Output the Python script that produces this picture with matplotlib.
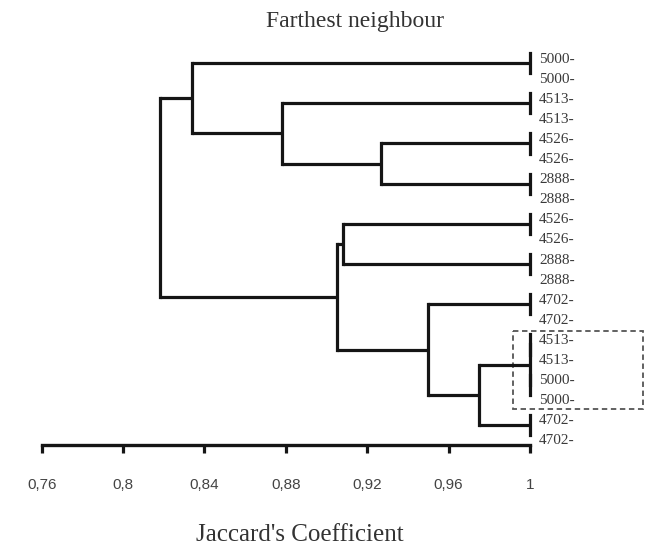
import matplotlib
matplotlib.use("Agg")
import matplotlib.pyplot as plt
from matplotlib.patches import Rectangle

leaf_labels = ["5000-", "5000-", "4513-", "4513-", "4526-", "4526-", "2888-", "2888-",
               "4526-", "4526-", "2888-", "2888-", "4702-", "4702-", "4513-", "4513-",
               "5000-", "5000-", "4702-", "4702-"]

# merges: (left child, right child, similarity); ints are leaves, letters are clusters
merge_names = ["A", "B", "C", "D", "E", "F", "G", "H", "I", "J",
               "K", "L", "M", "N", "O", "P", "Q", "R", "S"]
merge_left = [0, 2, 4, 6, 8, 10, 12, 14, 16, 18,
              "H", "C", "B", "A", "E", "K", "G", "O", "N"]
merge_right = [1, 3, 5, 7, 9, 11, 13, 15, 17, 19,
               "I", "D", "L", "M", "F", "J", "P", "Q", "R"]
merge_height = [1.0, 1.0, 1.0, 1.0, 1.0, 1.0, 1.0, 1.0, 1.0, 1.0,
                1.0, 0.927, 0.878, 0.834, 0.908, 0.975, 0.950, 0.905, 0.818]

x_ticks = [0.76, 0.80, 0.84, 0.88, 0.92, 0.96, 1.00]
x_tick_labels = ["0,76", "0,8", "0,84", "0,88", "0,92", "0,96", "1"]

W, H = 648, 548
fig = plt.figure(figsize=(W / 100, H / 100), dpi=100)
row_px = 20.1
ax_left_px, ax_right_px = 41.7, 530
ax_bottom_px = 445
y_top, y_bottom = -1.0, 19.5
ax_h_px = (y_bottom - y_top) * row_px
ax = fig.add_axes([ax_left_px / W, (H - ax_bottom_px) / H,
                   (ax_right_px - ax_left_px) / W, ax_h_px / H])
ax.set_xlim(0.76, 1.0)
ax.set_ylim(y_bottom, y_top)

lw = 2.3
col = "#151515"
pos = {}
xpos = {}
for i in range(len(leaf_labels)):
    pos[i] = float(i)
    xpos[i] = 1.0
for name, a, b, h in zip(merge_names, merge_left, merge_right, merge_height):
    ya, yb = pos[a], pos[b]
    ax.plot([h, h], [ya, yb], color=col, lw=lw, solid_capstyle="projecting", clip_on=False)
    if xpos[a] != h:
        ax.plot([xpos[a], h], [ya, ya], color=col, lw=lw, solid_capstyle="butt", clip_on=False)
    if xpos[b] != h:
        ax.plot([xpos[b], h], [yb, yb], color=col, lw=lw, solid_capstyle="butt", clip_on=False)
    pos[name] = (ya + yb) / 2
    xpos[name] = h

for i, lab in enumerate(leaf_labels):
    ax.text(1.0045, i + 0.3, lab, fontsize=11, family="Liberation Serif", color="#3a3a3a",
            ha="left", va="center", clip_on=False)

# dashed highlight box
ax.add_patch(Rectangle((0.9918, 13.83), 1.0557 - 0.9918, 17.71 - 13.83, fill=False,
                       ls=(0, (3, 2)), lw=1.3, edgecolor="#555555", clip_on=False))

for s in ["top", "right", "left"]:
    ax.spines[s].set_visible(False)
ax.spines["bottom"].set_linewidth(2.4)
ax.spines["bottom"].set_color(col)
ax.set_yticks([])
ax.set_xticks(x_ticks)
ax.set_xticklabels(x_tick_labels, family="Liberation Sans", fontsize=11, color="#444444")
ax.tick_params(axis="x", direction="out", length=6, width=2.3, color=col, pad=18)

fig.text(355 / W, 1 - 21 / H, "Farthest neighbour", family="Liberation Serif",
         fontsize=17, color="#333333", ha="center", va="center")
fig.text(300 / W, 1 - 535 / H, "Jaccard's Coefficient", family="Liberation Serif",
         fontsize=18, color="#333333", ha="center", va="center")

fig.savefig("out.png", dpi=100)
